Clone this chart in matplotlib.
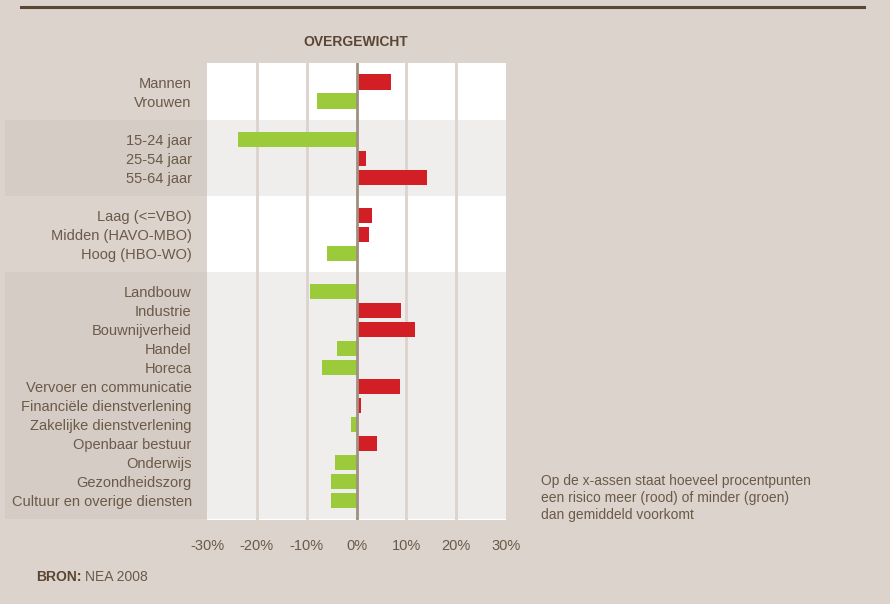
import matplotlib.pyplot as plt
from matplotlib.patches import Rectangle
from matplotlib.transforms import blended_transform_factory

# groups of categories, values in percentage points vs. average
groups = [
    ["Mannen", "Vrouwen"],
    ["15-24 jaar", "25-54 jaar", "55-64 jaar"],
    ["Laag (<=VBO)", "Midden (HAVO-MBO)", "Hoog (HBO-WO)"],
    ["Landbouw", "Industrie", "Bouwnijverheid", "Handel", "Horeca",
     "Vervoer en communicatie", "Financiële dienstverlening",
     "Zakelijke dienstverlening", "Openbaar bestuur", "Onderwijs",
     "Gezondheidszorg", "Cultuur en overige diensten"],
]
group_values = [
    [7.0, -8.0],
    [-23.8, 2.0, 14.2],
    [3.2, 2.6, -6.0],
    [-9.4, 9.0, 11.8, -4.0, -7.0, 8.8, 1.0, -1.2, 4.2, -4.4, -5.2, -5.2],
]
x_ticks = [-30, -20, -10, 0, 10, 20, 30]
title = "OVERGEWICHT"
note = ("Op de x-assen staat hoeveel procentpunten\n"
        "een risico meer (rood) of minder (groen)\n"
        "dan gemiddeld voorkomt")

BG = "#dbd3cc"
BAND_DARK = "#d5ccc5"
BAND_LIGHT = "#f0eeec"
BROWN = "#5a4632"
TEXT = "#6b5a48"
RED = "#d11f25"
GREEN = "#9bcb3b"

plt.rcParams["font.family"] = ["Liberation Sans", "DejaVu Sans"]

fig = plt.figure(figsize=(8.9, 6.04), dpi=100, facecolor=BG)
ax = fig.add_axes([207 / 890, 1 - 520 / 604, 299 / 890, 457 / 604])
ax.set_facecolor("white")

# lay out rows with one blank row between groups
labels, values, ypos, spans = [], [], [], []
row = 0
for names, vals in zip(groups, group_values):
    start = row
    for n, v in zip(names, vals):
        labels.append(n)
        values.append(v)
        ypos.append(row)
        row += 1
    spans.append((start - 1, row))
    row += 1

ax.set_xlim(-30, 30)
ax.set_ylim(spans[-1][1] + 0.05, -1)

blend = blended_transform_factory(fig.transFigure, ax.transData)
for i, (a, b) in enumerate(spans):
    if i % 2 == 1:
        ax.axhspan(a, b, color=BAND_LIGHT, zorder=0, lw=0)
        fig.patches.append(Rectangle((5 / 890, a), (207 - 5) / 890, b - a,
                                     transform=blend, color=BAND_DARK, lw=0, zorder=-1))

for x in x_ticks:
    if x not in (-30, 0, 30):
        ax.axvline(x, color=BG, lw=2, zorder=1)

colors = [RED if v > 0 else GREEN for v in values]
ax.barh(ypos, values, height=0.79, color=colors, zorder=2)
ax.axvline(0, color="#a09080", lw=2, zorder=3)

ax.set_yticks(ypos)
ax.set_yticklabels(labels, fontsize=10.5, color=TEXT)
ax.set_xticks(x_ticks)
ax.set_xticklabels([f"{x}%" for x in x_ticks], fontsize=10.5, color=TEXT)
ax.tick_params(axis="y", length=0, pad=11)
ax.tick_params(axis="x", length=0, pad=14)
for s in ax.spines.values():
    s.set_visible(False)

fig.text(356 / 890, 1 - 42 / 604, title, ha="center", va="center",
         fontsize=10, fontweight="bold", color=BROWN)
fig.text(541 / 890, 1 - 498 / 604, note, ha="left", va="center",
         fontsize=10, color=TEXT, linespacing=1.25)
fig.text(36 / 890, 1 - 577 / 604, "BRON:", ha="left", va="center",
         fontsize=10, fontweight="bold", color=BROWN)
fig.text(85 / 890, 1 - 577 / 604, "NEA 2008", ha="left", va="center",
         fontsize=10, color=TEXT)

fig.add_artist(plt.Line2D([21 / 890, 864 / 890], [1 - 7 / 604, 1 - 7 / 604],
                          transform=fig.transFigure, color=BROWN, lw=2.2))

fig.savefig("out.png", dpi=100, facecolor=BG)
